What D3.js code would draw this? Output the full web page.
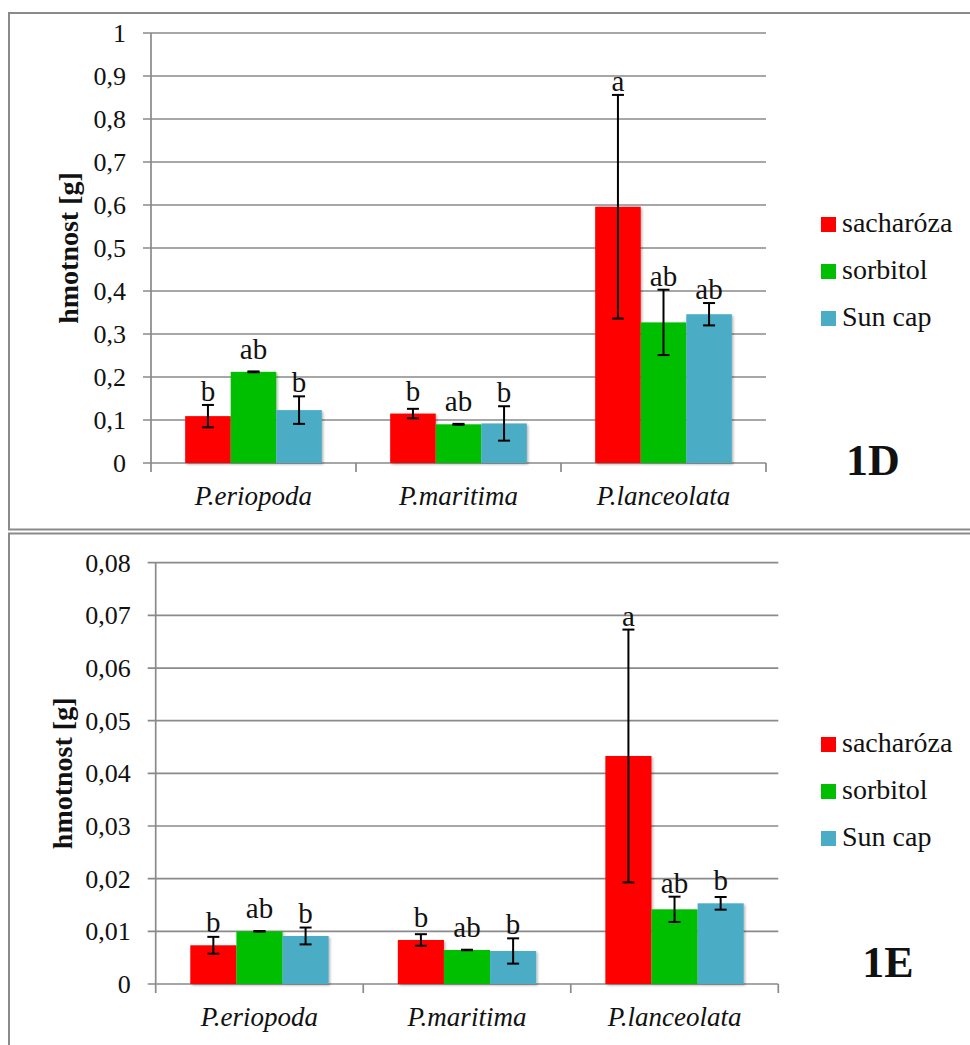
<!DOCTYPE html>
<html>
<head>
<meta charset="utf-8">
<script src="https://cdn.jsdelivr.net/npm/d3@7"></script>
<style>
  html, body { margin: 0; padding: 0; background: #fff; }
  svg { display: block; }
  text { font-family: "Liberation Serif", "DejaVu Serif", serif; fill: #111; }
</style>
</head>
<body>
<svg id="fig" width="970" height="1045"></svg>
<script>
// Plant species and treatments
const categories = ["P.eriopoda", "P.maritima", "P.lanceolata"];
const seriesNames = ["sacharóza", "sorbitol", "Sun cap"];

// Panel 1D – mass [g], means and error half-widths per species
const d_sacharoza = [0.109, 0.115, 0.596];
const d_sorbitol  = [0.212, 0.090, 0.327];
const d_suncap    = [0.123, 0.092, 0.346];
const d_err_sacharoza = [0.026, 0.011, 0.260];
const d_err_sorbitol  = [0.001, 0.001, 0.076];
const d_err_suncap    = [0.032, 0.040, 0.026];
const d_sig_sacharoza = ["b", "b", "a"];
const d_sig_sorbitol  = ["ab", "ab", "ab"];
const d_sig_suncap    = ["b", "b", "ab"];
const d_ticks = [0, 0.1, 0.2, 0.3, 0.4, 0.5, 0.6, 0.7, 0.8, 0.9, 1];
const d_tickLabels = ["0", "0,1", "0,2", "0,3", "0,4", "0,5", "0,6", "0,7", "0,8", "0,9", "1"];

// Panel 1E – mass [g], means and error half-widths per species
const e_sacharoza = [0.00735, 0.00836, 0.0433];
const e_sorbitol  = [0.0100, 0.00646, 0.01418];
const e_suncap    = [0.00912, 0.00627, 0.01532];
const e_err_sacharoza = [0.0016, 0.0011, 0.0240];
const e_err_sorbitol  = [0.00005, 0.00005, 0.0024];
const e_err_suncap    = [0.0016, 0.0024, 0.0012];
const e_sig_sacharoza = ["b", "b", "a"];
const e_sig_sorbitol  = ["ab", "ab", "ab"];
const e_sig_suncap    = ["b", "b", "b"];
const e_ticks = [0, 0.01, 0.02, 0.03, 0.04, 0.05, 0.06, 0.07, 0.08];
const e_tickLabels = ["0", "0,01", "0,02", "0,03", "0,04", "0,05", "0,06", "0,07", "0,08"];

const colors = ["#ff0000", "#00bf00", "#4bacc6"];
const gridColor = "#8a8a8a";

const svg = d3.select("#fig");

// soft shadow under the bars
const defs = svg.append("defs");
const f = defs.append("filter").attr("id", "barShadow")
  .attr("x", "-20%").attr("y", "-20%").attr("width", "140%").attr("height", "140%");
f.append("feDropShadow").attr("dx", 1.5).attr("dy", 1.5)
  .attr("stdDeviation", 1.2).attr("flood-color", "#000").attr("flood-opacity", 0.28);

function drawPanel(p) {
  const g = svg.append("g");

  // panel frame (runs past the right edge of the page)
  g.append("rect")
    .attr("x", p.frame.x).attr("y", p.frame.y)
    .attr("width", p.frame.w).attr("height", p.frame.h)
    .attr("fill", "none").attr("stroke", gridColor).attr("stroke-width", 2);

  const y = d3.scaleLinear().domain(p.domain).range([p.y0, p.y1]);
  const x = d3.scaleBand().domain(categories).range([p.x0, p.x1]).paddingInner(0).paddingOuter(0);
  const xs = d3.scaleBand().domain(d3.range(seriesNames.length))
    .range([0, x.bandwidth()]).paddingInner(0).paddingOuter(0.75);

  // horizontal gridlines + left ticks
  g.append("g").selectAll("line.grid").data(p.ticks).join("line")
    .attr("x1", p.x0 - 8).attr("x2", p.x1)
    .attr("y1", d => y(d)).attr("y2", d => y(d))
    .attr("stroke", gridColor).attr("stroke-width", 1.7);

  // tick labels
  g.append("g").selectAll("text").data(p.ticks).join("text")
    .attr("x", p.x0 - 25).attr("y", d => y(d))
    .attr("dy", "0.34em")
    .attr("text-anchor", "end")
    .style("font-size", "26px")
    .text((d, i) => p.tickLabels[i]);

  // vertical axis line
  g.append("line")
    .attr("x1", p.x0).attr("x2", p.x0)
    .attr("y1", p.y1).attr("y2", p.y0 + 9)
    .attr("stroke", gridColor).attr("stroke-width", 1.7);

  // category separators below the baseline
  const bounds = categories.map(c => x(c)).concat([p.x1]).slice(1);
  g.append("g").selectAll("line").data(bounds).join("line")
    .attr("x1", d => d).attr("x2", d => d)
    .attr("y1", p.y0).attr("y2", p.y0 + 9)
    .attr("stroke", gridColor).attr("stroke-width", 1.7);

  // category labels
  g.append("g").selectAll("text").data(categories).join("text")
    .attr("x", c => x(c) + x.bandwidth() / 2)
    .attr("y", p.y0 + 42)
    .attr("text-anchor", "middle")
    .style("font-size", "27px").style("font-style", "italic")
    .text(c => c);

  // y axis title
  g.append("text")
    .attr("transform", `translate(${p.titleX},${(p.y0 + p.y1) / 2}) rotate(-90)`)
    .attr("text-anchor", "middle")
    .style("font-size", "28px").style("font-weight", "bold")
    .text("hmotnost [g]");

  // bars
  const rows = [];
  p.values.forEach((vals, si) => {
    vals.forEach((v, ci) => {
      rows.push({ c: categories[ci], s: si, v: v, e: p.errors[si][ci], sig: p.sig[si][ci] });
    });
  });

  g.append("g").attr("filter", "url(#barShadow)")
    .selectAll("rect").data(rows).join("rect")
    .attr("x", d => x(d.c) + xs(d.s))
    .attr("width", xs.bandwidth())
    .attr("y", d => y(d.v))
    .attr("height", d => y(0) - y(d.v))
    .attr("fill", d => colors[d.s]);

  // error bars
  const eb = g.append("g").attr("stroke", "#000").attr("stroke-width", 2);
  rows.forEach(d => {
    const cx = x(d.c) + xs(d.s) + xs.bandwidth() / 2;
    const yt = y(d.v + d.e), yb = y(d.v - d.e);
    eb.append("line").attr("x1", cx).attr("x2", cx).attr("y1", yt).attr("y2", yb);
    eb.append("line").attr("x1", cx - 6).attr("x2", cx + 6).attr("y1", yt).attr("y2", yt);
    eb.append("line").attr("x1", cx - 6).attr("x2", cx + 6).attr("y1", yb).attr("y2", yb);
  });

  // significance letters
  g.append("g").selectAll("text").data(rows).join("text")
    .attr("x", d => x(d.c) + xs(d.s) + xs.bandwidth() / 2)
    .attr("y", d => Math.min(y(d.v) - 13, y(d.v + d.e) - 4))
    .attr("text-anchor", "middle")
    .style("font-size", "29px")
    .text(d => d.sig);

  // legend
  const lg = g.append("g").attr("transform", `translate(821,${p.legendY})`);
  seriesNames.forEach((name, i) => {
    lg.append("rect").attr("x", 0).attr("y", i * 47).attr("width", 15).attr("height", 15)
      .attr("fill", colors[i]);
    lg.append("text").attr("x", 21).attr("y", i * 47 + 15)
      .style("font-size", "28px").text(name);
  });

  // panel tag
  g.append("text")
    .attr("x", p.tag.x).attr("y", p.tag.y)
    .attr("text-anchor", "middle")
    .style("font-size", "44px").style("font-weight", "bold")
    .text(p.tag.text);
}

drawPanel({
  frame: { x: 9, y: 13, w: 970, h: 516.5 },
  domain: [0, 1], y0: 463, y1: 33, x0: 151, x1: 766,
  ticks: d_ticks, tickLabels: d_tickLabels,
  values: [d_sacharoza, d_sorbitol, d_suncap],
  errors: [d_err_sacharoza, d_err_sorbitol, d_err_suncap],
  sig: [d_sig_sacharoza, d_sig_sorbitol, d_sig_suncap],
  titleX: 78, legendY: 217,
  tag: { x: 873, y: 475, text: "1D" }
});

drawPanel({
  frame: { x: 9, y: 533.5, w: 970, h: 530 },
  domain: [0, 0.08], y0: 984, y1: 562.7, x0: 155.7, x1: 778.3,
  ticks: e_ticks, tickLabels: e_tickLabels,
  values: [e_sacharoza, e_sorbitol, e_suncap],
  errors: [e_err_sacharoza, e_err_sorbitol, e_err_suncap],
  sig: [e_sig_sacharoza, e_sig_sorbitol, e_sig_suncap],
  titleX: 72, legendY: 737,
  tag: { x: 888, y: 977, text: "1E" }
});
</script>
</body>
</html>
